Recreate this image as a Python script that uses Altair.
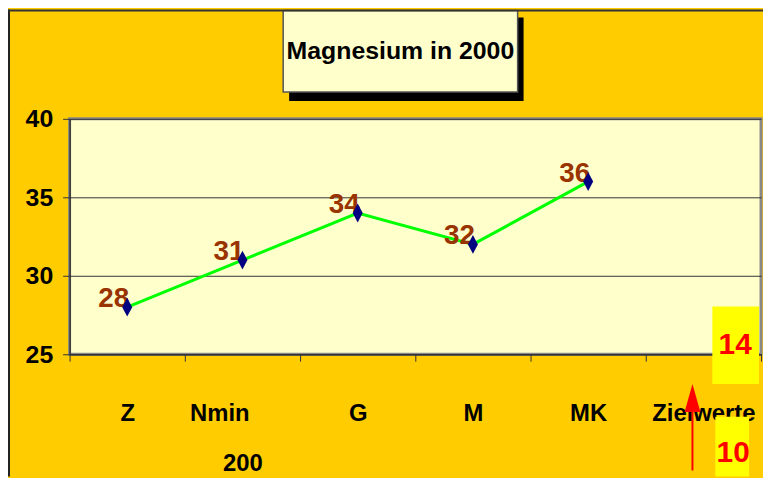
import altair as alt
import pandas as pd

# ---- data ----
categories = ["Z", "Nmin 200", "G", "M", "MK", "Zielwerte"]
series_categories = ["Z", "Nmin 200", "G", "M", "MK"]
series_values = [28, 31, 34, 32, 36]
target_values = [14, 10]
y_ticks = [25, 30, 35, 40]
title_text = "Magnesium in 2000"

df = pd.DataFrame({"cat": series_categories, "val": series_values})
one = pd.DataFrame({"k": [0]})
t14 = pd.DataFrame({"v": [target_values[0]]})
t10 = pd.DataFrame({"v": [target_values[1]]})

FONT = "Liberation Sans, Arial, sans-serif"
W, H = 696, 237
NB = "\u00a0" * 7 + "\u200b"

x_enc = alt.X(
    "cat:N",
    scale=alt.Scale(type="band", domain=categories, paddingInner=0, paddingOuter=0),
    sort=categories,
    axis=alt.Axis(
        title=None,
        tickBand="extent",
        tickSize=7,
        tickColor="#333333",
        domainColor="#333333",
        domainWidth=1.5,
        labelFont=FONT,
        labelFontSize=24,
        labelFontWeight="bold",
        labelColor="black",
        labelAngle=0,
        labelBaseline="alphabetic",
        labelPadding=60,
        labelLineHeight=50,
        labelOverlap=False,
        labelExpr="datum.value == 'Nmin 200' ? ['Nmin" + NB + "', '200'] : datum.label",
        grid=False,
    ),
)
y_enc = alt.Y(
    "val:Q",
    scale=alt.Scale(domain=[25, 40], nice=False, zero=False),
    axis=alt.Axis(
        title=None,
        values=y_ticks,
        tickSize=7,
        tickColor="#333333",
        domainColor="#333333",
        domainWidth=1.5,
        grid=True,
        gridColor="#333333",
        gridWidth=1,
        labelFont=FONT,
        labelFontSize=25,
        labelFontWeight="bold",
        labelColor="black",
        labelPadding=10,
    ),
)

base = alt.Chart(df)
line = base.mark_line(color="#00FF00", strokeWidth=3).encode(x=x_enc, y=y_enc)
labels = base.mark_text(
    align="right", baseline="alphabetic", dx=2, dy=0,
    font=FONT, fontSize=28, fontWeight="bold", color="#993300",
).encode(x=alt.X("cat:N", sort=categories), y="val:Q", text="val:Q")
points = base.mark_point(
    shape="M0,-1L0.53,0L0,1L-0.53,0Z", filled=True, size=361,
    color="#000080", opacity=1,
).encode(x=alt.X("cat:N", sort=categories), y="val:Q")

# title box with shadow
shadow = alt.Chart(one).mark_rect(color="black").encode(
    x=alt.value(221), x2=alt.value(457), y=alt.value(-102), y2=alt.value(-18))
tbox = alt.Chart(one).mark_rect(fill="#FFFFCC", stroke="#555555", strokeWidth=1.5).encode(
    x=alt.value(215), x2=alt.value(451), y=alt.value(-109), y2=alt.value(-27))
ttext = alt.Chart(one).mark_text(
    font=FONT, fontSize=25, fontWeight="bold", color="black",
    align="center", baseline="middle",
).encode(x=alt.value(333), y=alt.value(-68), text=alt.value(title_text))

# outer frame lines
frame_left = alt.Chart(one).mark_rule(color="#222222", strokeWidth=2).encode(
    x=alt.value(-61), y=alt.value(-110), y2=alt.value(360))
frame_top = alt.Chart(one).mark_rule(color="#333333", strokeWidth=2).encode(
    x=alt.value(-62), x2=alt.value(700), y=alt.value(-109))

# target value boxes
box14 = alt.Chart(one).mark_rect(fill="#FFFF00").encode(
    x=alt.value(647), x2=alt.value(694), y=alt.value(189), y2=alt.value(267))
txt14 = alt.Chart(t14).mark_text(
    font=FONT, fontSize=30, fontWeight="bold", color="#FF0000",
    align="center", baseline="middle",
).encode(x=alt.value(670), y=alt.value(228), text="v:Q")
box10 = alt.Chart(one).mark_rect(fill="#FFFF00").encode(
    x=alt.value(650), x2=alt.value(684), y=alt.value(300), y2=alt.value(360))
txt10 = alt.Chart(t10).mark_text(
    font=FONT, fontSize=30, fontWeight="bold", color="#FF0000",
    align="center", baseline="middle",
).encode(x=alt.value(668), y=alt.value(336), text="v:Q")

# red arrow
arrow_line = alt.Chart(one).mark_rule(color="#FF0000", strokeWidth=2).encode(
    x=alt.value(627), y=alt.value(285), y2=alt.value(354))
arrow_head = alt.Chart(one).mark_point(
    shape="M0,-1L0.57,1L-0.57,1Z", filled=True, size=784, color="#FF0000", opacity=1,
).encode(x=alt.value(627), y=alt.value(281))

chart = alt.layer(
    line, labels, points,
    shadow, tbox, ttext,
    frame_left, frame_top,
    box14, txt14, box10, txt10,
    arrow_line, arrow_head,
).properties(
    width=W, height=H,
    autosize=alt.AutoSizeParams(type="none"),
    padding={"left": 62, "top": 110, "right": 2, "bottom": 123},
    background="#FFCC00",
).configure_view(
    fill="#FFFFCC", stroke="#888888", strokeWidth=3,
)

chart.save("out.html", embed_options={"renderer": "svg", "actions": False})
